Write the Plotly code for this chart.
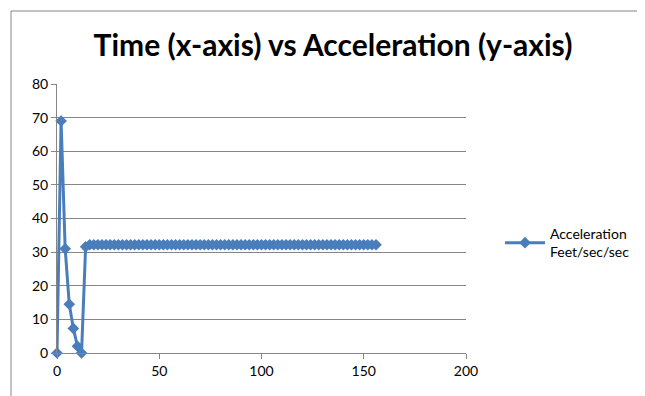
import plotly.graph_objects as go

time_s = [0, 2, 4, 6, 8, 10, 12] + list(range(14, 157, 2))
accel = [0, 69, 31, 14.5, 7.3, 2, 0, 31.6] + [32.2] * (len(range(14, 157, 2)) - 1)

W, H = 645, 396
OFF = 8  # page body margin
L, T = 57 - OFF, 84 - OFF
pw, ph = 409, 269
R, B = W - L - pw, H - T - ph

fig = go.Figure()
fig.add_trace(go.Scatter(
    x=time_s, y=accel, mode="lines+markers",
    name="Acceleration<br>Feet/sec/sec",
    line=dict(color="#4A7EBB", width=3),
    marker=dict(symbol="diamond", size=9, color="#4A7EBB"),
    cliponaxis=False,
))

bx0 = (11 - 57) / pw
by1 = (353 - 11) / ph
fig.update_layout(
    width=W, height=H,
    margin=dict(l=L, r=R, t=T, b=B, autoexpand=False),
    paper_bgcolor="white", plot_bgcolor="white",
    font=dict(family="Lato, Open Sans, sans-serif", size=13, color="#000000"),
    title=dict(text="<b>Time (x-axis) vs Acceleration (y-axis)</b>",
               x=(333 - OFF) / W, xanchor="center", y=1 - (45 - OFF) / H, yanchor="middle",
               font=dict(size=30, color="#000000", family="Lato, sans-serif")),
    showlegend=True,
    legend=dict(x=(500 - 57) / pw, xanchor="left", y=(353 - 243) / ph, yanchor="middle",
                font=dict(size=14, color="#000000"), bgcolor="rgba(0,0,0,0)",
                itemwidth=40),
    xaxis=dict(range=[0, 200], tickvals=[0, 50, 100, 150, 200], showgrid=False,
               showline=True, linecolor="#868686", linewidth=1, automargin=False,
               ticks="outside", ticklen=5, tickcolor="#868686", zeroline=False,
               tickfont=dict(size=14, color="#000000")),
    yaxis=dict(range=[0, 80], tickvals=list(range(0, 81, 10)), showgrid=True,
               gridcolor="#868686", gridwidth=1, showline=True, linecolor="#868686",
               ticks="outside", ticklen=5, tickcolor="#868686", zeroline=False,
               automargin=False, tickfont=dict(size=14, color="#000000")),
    shapes=[
        dict(type="line", xref="paper", yref="paper", x0=bx0, x1=bx0,
             y0=(353 - 400) / ph, y1=by1, line=dict(color="#868686", width=1)),
        dict(type="line", xref="paper", yref="paper", x0=bx0, x1=(640 - 57) / pw,
             y0=by1, y1=by1, line=dict(color="#868686", width=1)),
    ],
)

fig.write_html("out.html")
